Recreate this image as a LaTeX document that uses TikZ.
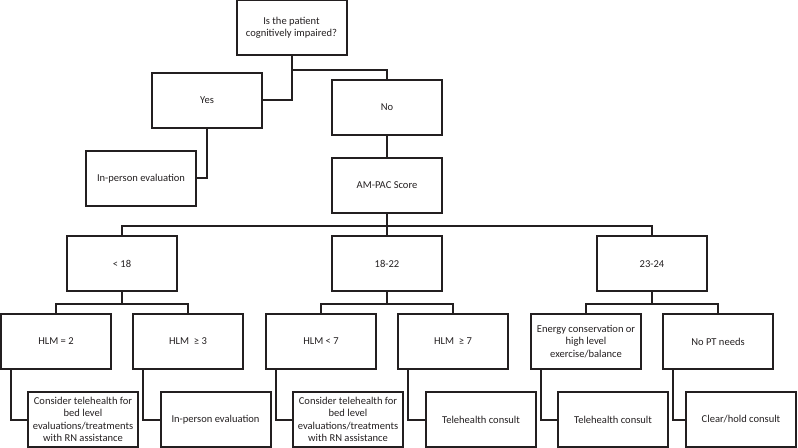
\documentclass[tikz,border=0pt]{standalone}
\usepackage{fontspec}
\setmainfont{Carlito}
\usepackage{tikz}
\definecolor{ink}{RGB}{35,31,32}

\begin{document}
\begin{tikzpicture}[x=0.75pt,y=-0.75pt,
  box/.style={draw=ink,line width=1.5pt,minimum width=82.5pt,minimum height=41.25pt,
    align=center,text=ink,inner sep=1pt,font=\fontsize{7.9}{9.2}\selectfont},
  link/.style={draw=ink,line width=1.5pt}]
  \useasboundingbox (0,0) rectangle (798,448);
  \node[box] (q) at (291.5,28) {Is the patient\\cognitively impaired?};
  \node[box] (yes) at (207,100.5) {Yes};
  \node[box] (no) at (387,107.5) {No};
  \node[box] (ipe1) at (141,178.5) {In-person evaluation};
  \node[box] (am) at (387,185.5) {AM-PAC Score};
  \node[box] (lt18) at (122,264) {< 18};
  \node[box] (r1822) at (387,264) {18-22};
  \node[box] (r2324) at (652,264) {23-24};
  \node[box] (hlm2) at (56,341.5) {HLM = 2};
  \node[box] (hlm3) at (188,341.5) {HLM \ ≥ 3};
  \node[box] (hlm7a) at (321,341.5) {HLM < 7};
  \node[box] (hlm7b) at (453,341.5) {HLM \ ≥ 7};
  \node[box] (energy) at (586,341.5) {Energy conservation or\\high level\\exercise/balance};
  \node[box] (nopt) at (718,341.5) {No PT needs};
  \node[box] (c1) at (83,419.5) {Consider telehealth for\\bed level\\evaluations/treatments\\with RN assistance};
  \node[box] (ipe2) at (215.5,419.5) {In-person evaluation};
  \node[box] (c2) at (348,419.5) {Consider telehealth for\\bed level\\evaluations/treatments\\with RN assistance};
  \node[box] (th1) at (481,419.5) {Telehealth consult};
  \node[box] (th2) at (613,419.5) {Telehealth consult};
  \node[box] (clr) at (741,419.5) {Clear/hold consult};

  \draw[link] (q.south) |- (yes.east);
  \draw[link] (q.south) -- ++(0,14) -| (no.north);
  \draw[link] (yes.south) |- (ipe1.east);
  \draw[link] (no) -- (am);
  \foreach \r in {lt18,r1822,r2324}
    \draw[link] (am.south) -- ++(0,12) -| (\r.north);
  \foreach \p/\c in {lt18/hlm2,lt18/hlm3,r1822/hlm7a,r1822/hlm7b,r2324/energy,r2324/nopt}
    \draw[link] (\p.south) -- ++(0,12) -| (\c.north);
  \foreach \a/\b in {hlm2/c1,hlm3/ipe2,hlm7a/c2,hlm7b/th1,energy/th2,nopt/clr}
    \draw[link] ([xshift=8.25pt]\a.south west) |- (\b.west);
\end{tikzpicture}
\end{document}
